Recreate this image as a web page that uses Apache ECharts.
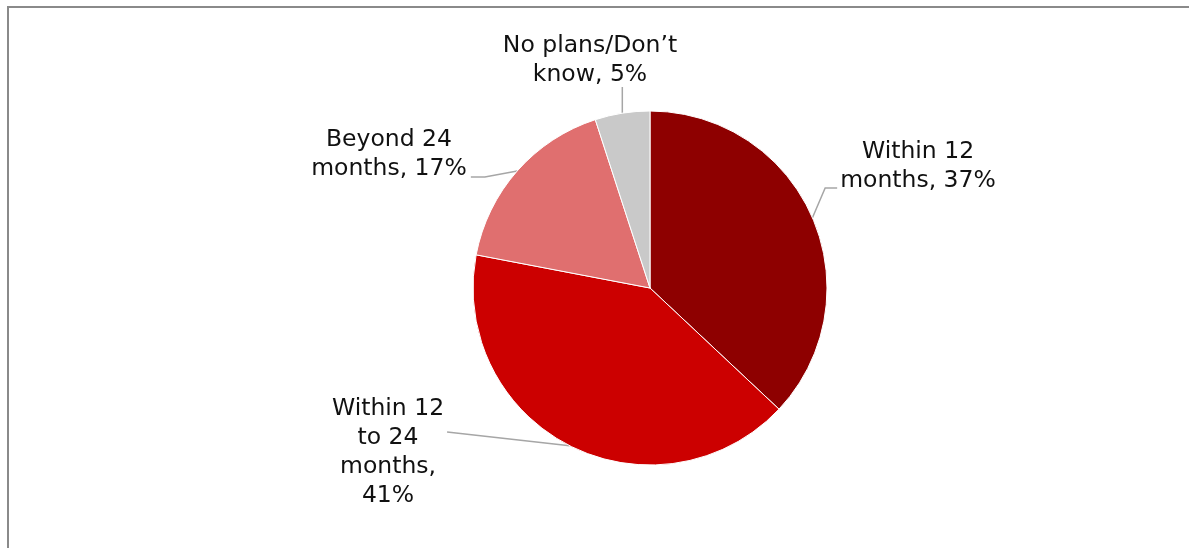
<!DOCTYPE html>
<html>
<head>
<meta charset="utf-8">
<style>
  html, body { margin: 0; padding: 0; background: #fff; }
  #chart { width: 1189px; height: 548px; }
</style>
<script src="https://cdn.jsdelivr.net/npm/echarts@6/dist/echarts.min.js"></script>
</head>
<body>
<div id="chart"></div>
<script>
// Timeline categories and their shares (%)
const categories = ['Within 12\nmonths', 'Within 12\nto 24\nmonths,', 'Beyond 24\nmonths', 'No plans/Don\u2019t\nknow'];
const shares = [37, 41, 17, 5];
const sliceColors = ['#8E0000', '#CC0000', '#E06F6F', '#C9C9C9'];

// Where each label block sits (centre of the text block) and how its leader bends
const labelSpots = [
  { x: 918, y: 166, side: 'right' },
  { x: 388, y: 452, side: 'leftLow' },
  { x: 389, y: 154, side: 'leftHigh' },
  { x: 590, y: 60,  side: 'top' }
];

const chart = echarts.init(document.getElementById('chart'));

const pieData = categories.map((name, i) => ({
  name: name,
  value: shares[i],
  itemStyle: { color: sliceColors[i] }
}));

chart.setOption({
  animation: false,
  graphic: [{
    type: 'polyline',
    shape: { points: [[8, 560], [8, 7], [1200, 7]] },
    style: { stroke: '#8a8a8a', lineWidth: 2, fill: null }
  }],
  series: [{
    type: 'pie',
    center: [650, 288],
    radius: 177,
    startAngle: 90,
    clockwise: true,
    data: pieData,
    itemStyle: { borderColor: '#ffffff', borderWidth: 1 },
    label: {
      show: true,
      formatter: p => {
        const name = p.name;
        const sep = name.endsWith(',') ? '\n' : ', ';
        return name + sep + p.value + '%';
      },
      fontFamily: 'DejaVu Sans, Verdana, sans-serif',
      fontSize: 23.5,
      lineHeight: 29,
      color: '#111',
      align: 'center'
    },
    labelLine: {
      show: true,
      length: 20,
      length2: 10,
      lineStyle: { color: '#a6a6a6', width: 1.5 }
    },
    labelLayout: function (p) {
      const s = labelSpots[p.dataIndex];
      const w = p.labelRect.width, h = p.labelRect.height;
      const left = s.x - w / 2, right = s.x + w / 2, bottom = s.y + h / 2;
      const a = p.labelLinePoints ? p.labelLinePoints[0] : [s.x, s.y];
      let pts;
      if (s.side === 'right') {
        const end = [left - 3, s.y + 22];
        pts = [a, [end[0] - 12, end[1]], end];
      } else if (s.side === 'leftLow') {
        const end = [right + 3, s.y - 20];
        pts = [a, end, end];
      } else if (s.side === 'leftHigh') {
        const end = [right + 4, s.y + 23];
        pts = [a, [end[0] + 14, end[1]], end];
      } else {
        const end = [a[0], bottom - 2];
        pts = [a, end, end];
      }
      return {
        x: s.x,
        y: s.y,
        align: 'center',
        verticalAlign: 'middle',
        labelLinePoints: pts
      };
    }
  }]
});
</script>
</body>
</html>
